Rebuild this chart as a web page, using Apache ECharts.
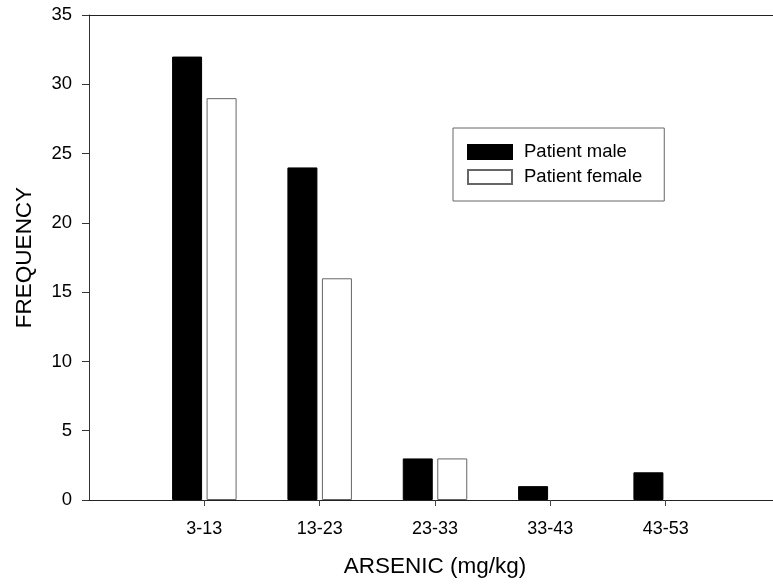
<!DOCTYPE html>
<html>
<head>
<meta charset="utf-8">
<script src="https://cdn.jsdelivr.net/npm/echarts@6/dist/echarts.min.js"></script>
<style>
html,body{margin:0;padding:0;background:#fff;overflow:hidden;width:773px;height:585px;}
#chart{width:784px;height:585px;}
</style>
</head>
<body>
<div id="chart"></div>
<script>
const categories = ['3-13', '13-23', '23-33', '33-43', '43-53'];
const maleValues = [32, 24, 3, 1, 2];
const femaleValues = [29, 16, 3, 0, 0];
const yTicks = [0, 5, 10, 15, 20, 25, 30, 35];

const FONT = '"Liberation Sans", Arial, Helvetica, sans-serif';
const axisData = [''].concat(categories, ['']);
// zero-height bars get no outline, as in the reference
const pad = v => ['-'].concat(v.map(x => x === 0 ? {value: x, itemStyle: {borderWidth: 0}} : x), ['-']);

const chart = echarts.init(document.getElementById('chart'), null, {renderer: 'canvas'});
chart.setOption({
  animation: false,
  backgroundColor: '#fff',
  grid: {left: 89, top: 15, width: 695, height: 485, containLabel: false},
  legend: {
    orient: 'vertical',
    left: 453, top: 128,
    padding: [14, 22, 14, 14],
    itemGap: 5,
    itemWidth: 44, itemHeight: 14,
    borderColor: '#666', borderWidth: 1,
    icon: 'rect',
    textStyle: {fontFamily: FONT, fontSize: 18.5, color: '#000', lineHeight: 20, padding: [0, 0, 0, 7]},
    data: ['Patient male', 'Patient female']
  },
  xAxis: [{
    type: 'category',
    data: axisData,
    boundaryGap: false,
    z: 5,
    name: 'ARSENIC (mg/kg)',
    nameLocation: 'middle',
    nameGap: 55,
    nameTextStyle: {fontFamily: FONT, fontSize: 22.5, color: '#000'},
    axisLine: {show: true, lineStyle: {color: '#222', width: 1}},
    axisTick: {show: true, length: 6, inside: false, interval: (i) => i > 0 && i < axisData.length - 1, lineStyle: {color: '#444'}},
    axisLabel: {fontFamily: FONT, fontSize: 18, color: '#000', margin: 20, interval: 0},
    splitLine: {show: false}
  }, {
    type: 'category',
    position: 'top',
    data: axisData,
    boundaryGap: false,
    axisLine: {show: true, lineStyle: {color: '#222', width: 1}},
    axisTick: {show: false},
    axisLabel: {show: false},
    splitLine: {show: false}
  }],
  yAxis: {
    type: 'value',
    min: yTicks[0], max: yTicks[yTicks.length - 1], interval: 5,
    name: 'FREQUENCY',
    nameLocation: 'middle',
    nameGap: 53,
    nameRotate: 90,
    nameTextStyle: {fontFamily: FONT, fontSize: 22.5, color: '#000'},
    axisLine: {show: true, lineStyle: {color: '#333', width: 1}},
    axisTick: {show: true, length: 7, inside: false, lineStyle: {color: '#333'}},
    axisLabel: {fontFamily: FONT, fontSize: 18.5, color: '#000', margin: 17},
    splitLine: {show: false}
  },
  series: [{
    name: 'Patient male',
    type: 'bar',
    data: pad(maleValues),
    barWidth: 30,
    barGap: '15%',
    itemStyle: {color: '#000', borderColor: '#000', borderWidth: 1}
  }, {
    name: 'Patient female',
    type: 'bar',
    data: pad(femaleValues),
    barWidth: 30,
    barGap: '15%',
    itemStyle: {color: '#fff', borderColor: '#666', borderWidth: 1}
  }]
});
</script>
</body>
</html>
